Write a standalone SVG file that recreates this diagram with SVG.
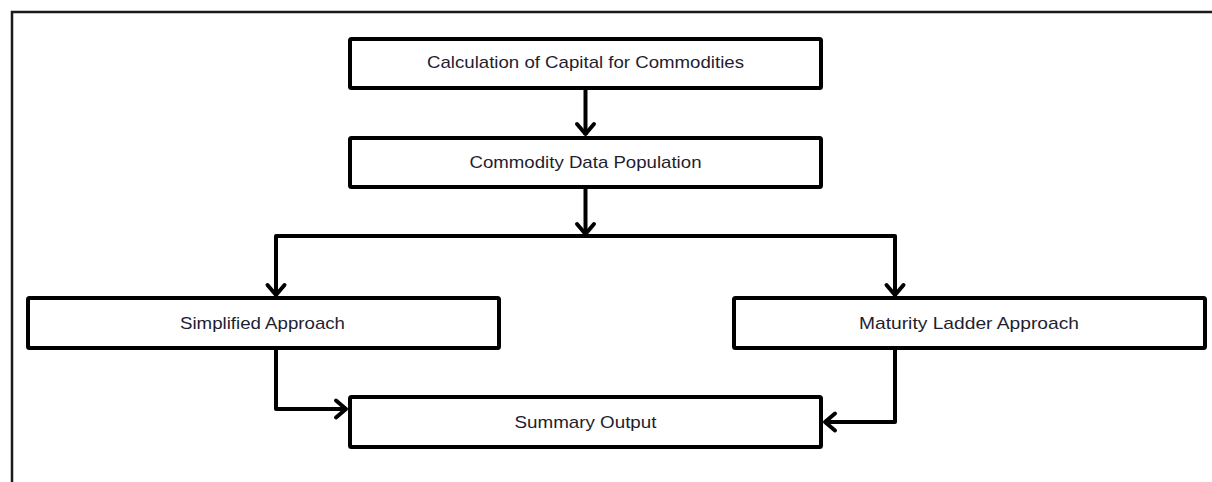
<svg xmlns="http://www.w3.org/2000/svg" width="1212" height="482" viewBox="0 0 1212 482">
<style>
.box{fill:#fff;stroke:#000;stroke-width:4;}
.lbl{font-family:"Liberation Sans",Arial,sans-serif;font-size:17px;fill:#1e1e30;text-anchor:middle;}
.con{fill:none;stroke:#000;stroke-width:4;stroke-linejoin:round;}
.head{fill:none;stroke:#000;stroke-width:4;stroke-linecap:round;stroke-linejoin:round;}
.frame{fill:none;stroke:#1a1a1a;stroke-width:2.5;}
</style>
<rect width="1212" height="482" fill="#fff"/>
<path class="frame" d="M12 482 V12 H1212"/>
<g id="n1"><rect class="box" x="350" y="39" width="471" height="49" rx="1.5"/><text class="lbl" x="585.5" y="68" textLength="317" lengthAdjust="spacingAndGlyphs">Calculation of Capital for Commodities</text></g>
<g id="n2"><rect class="box" x="350" y="138" width="471" height="49" rx="1.5"/><text class="lbl" x="585.5" y="168" textLength="232" lengthAdjust="spacingAndGlyphs">Commodity Data Population</text></g>
<g id="n3"><rect class="box" x="28" y="298" width="471" height="50" rx="1.5"/><text class="lbl" x="262.5" y="329" textLength="165" lengthAdjust="spacingAndGlyphs">Simplified Approach</text></g>
<g id="n4"><rect class="box" x="734" y="298" width="471" height="50" rx="1.5"/><text class="lbl" x="969" y="329" textLength="220" lengthAdjust="spacingAndGlyphs">Maturity Ladder Approach</text></g>
<g id="n5"><rect class="box" x="350" y="397" width="471" height="50" rx="1.5"/><text class="lbl" x="585.5" y="428" textLength="142" lengthAdjust="spacingAndGlyphs">Summary Output</text></g>
<g id="connectors">
<path class="con" d="M585.5 88 V135"/>
<path class="head" d="M577 124 L585.5 134 L594 124"/>
<path class="con" d="M585.5 187 V235"/>
<path class="head" d="M577 224 L585.5 234 L594 224"/>
<path class="con" d="M276 296 V236 H895 V296"/>
<path class="head" d="M267.5 285 L276 295 L284.5 285"/>
<path class="head" d="M886.5 285 L895 295 L903.5 285"/>
<path class="con" d="M276 348 V409 H346"/>
<path class="head" d="M336 400.5 L346 409 L336 417.5"/>
<path class="con" d="M895 348 V422 H825"/>
<path class="head" d="M835 413.5 L825 422 L835 430.5"/>
</g>
</svg>
